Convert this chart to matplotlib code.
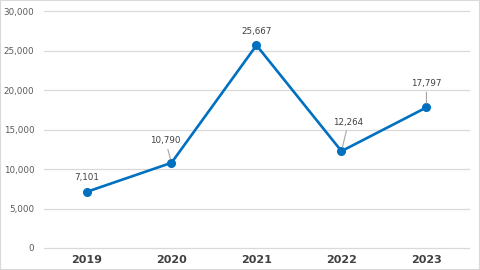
import matplotlib
matplotlib.use('Agg')
import matplotlib.pyplot as plt
from matplotlib.patches import Rectangle

years = ['2019', '2020', '2021', '2022', '2023']
values = [7101, 10790, 25667, 12264, 17797]
# label offsets in pixels (dx, dy) and whether a leader line is drawn
label_offsets = [(0, 14), (-6, 22), (0, 14), (7, 29), (0, 24)]
leaders = [False, True, False, True, True]

fig = plt.figure(figsize=(4.8, 2.7), dpi=100)
ax = fig.add_axes([0.0917, 0.0815, 0.8853, 0.8775])

x = list(range(len(years)))
ax.plot(x, values, color='#0070C0', lw=1.9, marker='o', ms=5.5, zorder=3)

for xi, v, (dx, dy), lead in zip(x, values, label_offsets, leaders):
    arrow = dict(arrowstyle='-', color='#a6a6a6', lw=0.8, shrinkA=1, shrinkB=3) if lead else None
    ax.annotate('{:,}'.format(v), xy=(xi, v), xytext=(dx, dy), textcoords='offset pixels',
                ha='center', va='center', fontsize=6.3, color='#404040', arrowprops=arrow)

ax.set_xlim(-0.5, 4.5)
ax.set_ylim(0, 30000)
ax.set_yticks(range(0, 30001, 5000))
ax.set_yticklabels(['{:,}'.format(t) for t in range(0, 30001, 5000)])
ax.set_xticks(x)
ax.set_xticklabels(years, fontweight='bold')
ax.tick_params(axis='x', length=0, labelsize=8, labelcolor='#404040', pad=5)
ax.tick_params(axis='y', length=0, labelsize=6.3, labelcolor='#595959', pad=7)
ax.grid(axis='y', color='#d9d9d9', lw=0.9)
for gl in ax.get_ygridlines():
    gl.set_clip_on(False)
ax.set_axisbelow(True)
for s in ax.spines.values():
    s.set_visible(False)

fig.patches.append(Rectangle((0, 0), 1, 1, transform=fig.transFigure, fill=False,
                             edgecolor='#d9d9d9', lw=1.5))
fig.savefig('out.png', dpi=100)
